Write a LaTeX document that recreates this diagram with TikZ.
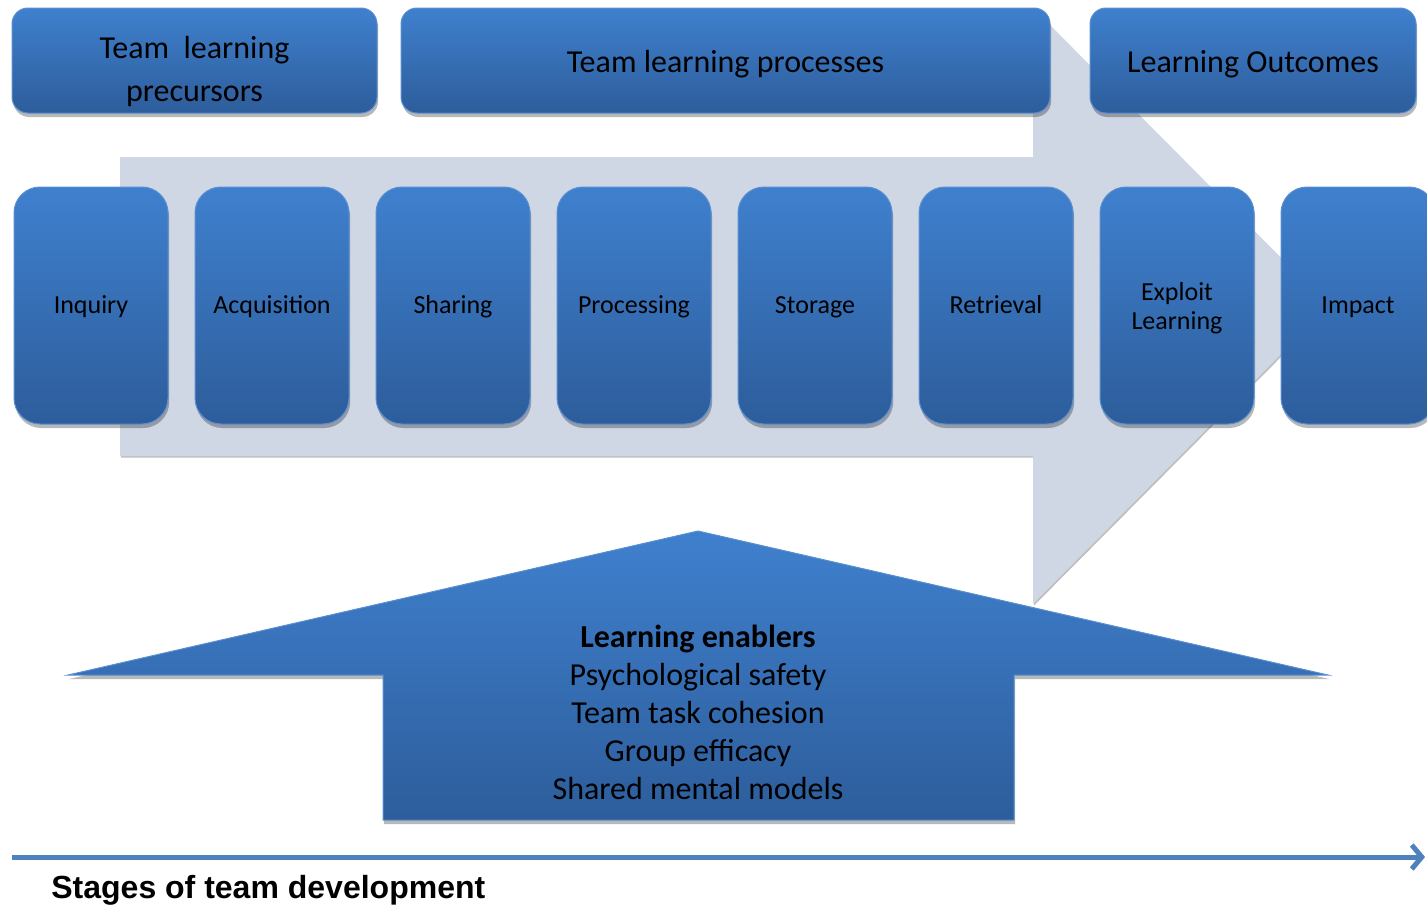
\documentclass[tikz,border=0pt]{standalone}
\usepackage{fontspec}
\setmainfont{Carlito}
\newfontfamily\arialfont{Liberation Sans}
\usetikzlibrary{arrows.meta,shadows}
\definecolor{boxtop}{HTML}{3F80CE}
\definecolor{boxbottom}{HTML}{2D5D9B}
\definecolor{boxline}{HTML}{5A8FD0}
\definecolor{flow}{HTML}{CFD6E4}
\definecolor{axisblue}{HTML}{4F81BD}
\tikzset{
  soft/.style={drop shadow={shadow xshift=0.6pt, shadow yshift=-2pt, fill=black, opacity=0.28}},
  bluefill/.style={top color=boxtop, bottom color=boxbottom, draw=boxline, line width=0.5pt},
  headbox/.style={
    bluefill, soft,
    rounded corners=8pt,
    inner sep=0pt,
    minimum height=52.5pt,
    text height=15pt,
    text depth=3.5pt,
    align=center,
    font=\fontsize{16}{21.5}\selectfont
  },
  stagebox/.style={
    bluefill, soft,
    rounded corners=13pt,
    inner sep=0pt,
    minimum width=77pt,
    minimum height=118.5pt,
    text height=11pt,
    text depth=2.8pt,
    align=center,
    font=\fontsize{13}{14.5}\selectfont
  },
  flowarrow/.style={fill=flow, drop shadow={shadow xshift=0.5pt, shadow yshift=-0.8pt, fill=black, opacity=0.25}},
  enabler/.style={bluefill, soft},
  timeline/.style={draw=axisblue, line width=2.5pt, -{Straight Barb[length=5pt, width=12pt]},
    drop shadow={shadow xshift=0.5pt, shadow yshift=-1.5pt, opacity=0.25}}
}

\begin{document}
\begin{tikzpicture}[x=0.5pt, y=-0.5pt]
  \useasboundingbox (0,0) rectangle (1427,905);

  % big process arrow behind the stages
  \path[flowarrow] (120,157) -- (1033,157) -- (1033,8) -- (1329,306)
    -- (1033,604) -- (1033,456) -- (120,456) -- cycle;

  \node[headbox, minimum width=182.5pt, text height=44pt] (precursors) at (194.5,60.5) {Team~ learning\\precursors};
  \node[headbox, minimum width=324.5pt] (processes) at (725.5,60.5) {Team learning processes};
  \node[headbox, minimum width=163pt] (outcomes) at (1253,60.5) {Learning Outcomes};

  \node[stagebox] (inquiry)     at (91,305.5)   {Inquiry};
  \node[stagebox] (acquisition) at (272,305.5)  {Acquisition};
  \node[stagebox] (sharing)     at (453,305.5)  {Sharing};
  \node[stagebox] (processing)  at (634,305.5)  {Processing};
  \node[stagebox] (storage)     at (815,305.5)  {Storage};
  \node[stagebox] (retrieval)   at (996,305.5)  {Retrieval};
  \node[stagebox, text height=26.5pt] (exploit) at (1177,305.5) {Exploit\\Learning};
  \node[stagebox] (impact)      at (1358,305.5) {Impact};

  % enablers pushing up
  \path[enabler] (383,820) -- (383,675) -- (68,675) -- (698,531)
    -- (1328,675) -- (1014,675) -- (1014,820) -- cycle;
  \node[align=center, font=\fontsize{16}{19}\selectfont] (enablers) at (698,712.5)
  {\textbf{Learning enablers}\\
   Psychological safety\\
   Team task cohesion\\
   Group efficacy\\
   Shared mental models};

  \coordinate (timeL) at (12,857);
  \coordinate (timeR) at (1425,857);
  \draw[timeline] (timeL) -- (timeR);
  \node[anchor=west, inner sep=0pt, font=\arialfont\bfseries\fontsize{16}{18}\selectfont]
    (stages) at (51,890) {Stages of team development};
\end{tikzpicture}
\end{document}
